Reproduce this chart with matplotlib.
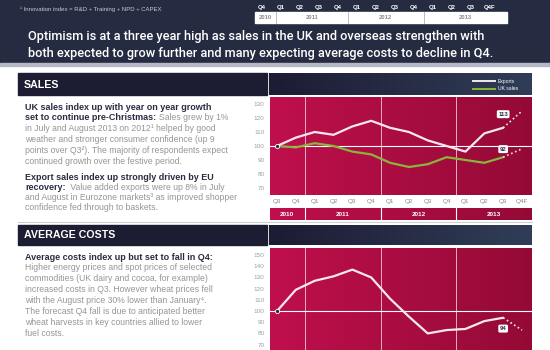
import matplotlib
matplotlib.use('Agg')
import matplotlib.pyplot as plt
import numpy as np
from matplotlib.patches import Rectangle

plt.rcParams['font.family'] = ['Liberation Sans', 'DejaVu Sans']

# --- data ---
quarters = ['Q3', 'Q4', 'Q1', 'Q2', 'Q3', 'Q4', 'Q1', 'Q2', 'Q3', 'Q4', 'Q1', 'Q2', 'Q3', 'Q4F']
years = ['2010', '2011', '2012', '2013']
year_start = [0, 2, 6, 10]
exports = [100, 106, 110, 108, 114, 118, 113, 110, 104, 100, 96, 109, 113, 125]
uk_sales = [100, 99, 102, 100, 96, 94, 88, 85, 87, 92, 90, 88, 92, 98]
avg_costs = [100, 119, 127, 131, 137, 130, 111, 95, 80, 83, 84, 91, 94, 83]
sales_ticks = [70, 80, 90, 100, 110, 120, 130]
cost_ticks = [70, 80, 90, 100, 110, 120, 130, 140, 150]
top_quarters = ['Q4', 'Q1', 'Q2', 'Q3', 'Q4', 'Q1', 'Q2', 'Q3', 'Q4', 'Q1', 'Q2', 'Q3', 'Q4F']
top_year_start = [0, 1, 5, 9]

headline = ["Optimism is at a three year high as sales in the UK and overseas strengthen with",
            "both expected to grow further and many expecting average costs to decline in Q4."]
sales_text = [
    [("UK sales index up with year on year growth", True)],
    [("set to continue pre-Christmas:", True), ("Sales grew by 1%", False)],
    [("in July and August 2013 on 2012\u00b9 helped by good", False)],
    [("weather and stronger consumer confidence (up 9", False)],
    [("points over Q3\u00b2). The majority of respondents expect", False)],
    [("continued growth over the festive period.", False)],
]
export_text = [
    [("Export sales index up strongly driven by EU", True)],
    [("recovery:", True), (" Value added exports were up 8% in July", False)],
    [("and August in Eurozone markets\u00b3 as improved shopper", False)],
    [("confidence fed through to baskets.", False)],
]
cost_text = [
    [("Average costs index up but set to fall in Q4:", True)],
    [("Higher energy prices and spot prices of selected", False)],
    [("commodities (UK dairy and cocoa, for example)", False)],
    [("increased costs in Q3. However wheat prices fell", False)],
    [("with the August price 30% lower than January\u2074.", False)],
    [("The forecast Q4 fall is due to anticipated better", False)],
    [("wheat harvests in key countries allied to lower", False)],
    [("fuel costs.", False)],
]

NAVY = '#252b40'
BAR_DARK = (0.11, 0.11, 0.20)
BAR_LIGHT = (0.19, 0.24, 0.34)
CRIM_L = (0.75, 0.06, 0.30)
CRIM_R = (0.58, 0.04, 0.21)
GREEN = '#8cb43a'
LINE_W = '#f7e8ef'
GREY = '#959595'
DARK = '#2a2d42'
W, H = 550, 350


def gradient(ax, x0, x1, y0, y1, c0, c1, z=1):
    t = np.linspace(0, 1, 64)[None, :, None]
    arr = np.array(c0)[None, None, :] * (1 - t) + np.array(c1)[None, None, :] * t
    ax.imshow(arr, extent=(x0, x1, y1, y0), aspect='auto', zorder=z, interpolation='bicubic')


def rich_line(ax, x, y, parts, size):
    t = None
    for s, bold in parts:
        kw = dict(fontsize=size + 0.3 if bold else size, color=DARK if bold else GREY,
                  fontweight='bold' if bold else 'normal')
        if t is None:
            t = ax.text(x, y, s, va='baseline', **kw)
        else:
            t = ax.annotate(s, xy=(1, 0), xycoords=t, xytext=(2, 0),
                            textcoords='offset points', va='bottom', **kw)


fig = plt.figure(figsize=(5.5, 3.5), dpi=100)
fig.patch.set_facecolor('white')
ax0 = fig.add_axes([0, 0, 1, 1])
ax0.axis('off')

# top band
ax0.add_patch(Rectangle((0, 0), W, 63, color=NAVY, zorder=0))
ax0.add_patch(Rectangle((0, 63), W, 3, color='#b4b8c4', zorder=0))
ax0.text(20, 9, "\u00b9 Innovation index = R&D + Training + NPD + CAPEX", fontsize=4.3,
         color='#c8cad4', va='center')

# quarter/year key at top right
qx = [262 + 19 * i for i in range(len(top_quarters))]
for x, q in zip(qx, top_quarters):
    ax0.text(x, 7, q, fontsize=4.3, color='white', fontweight='bold', ha='center', va='center')
ax0.add_patch(Rectangle((255, 12), 252, 11, color='white', zorder=1))
edges = [255] + [(qx[s - 1] + qx[s]) / 2 for s in top_year_start[1:]] + [507]
edges[1] = 276
for i, y in enumerate(years):
    if 0 < i:
        ax0.plot([edges[i], edges[i]], [12, 23], color='#b0b0b8', lw=0.6, zorder=2)
    ax0.text((edges[i] + edges[i + 1]) / 2, 17.5, y, fontsize=4.2, color='#8a8a90',
             fontweight='bold', ha='center', va='center', zorder=3)

for i, line in enumerate(headline):
    ax0.text(28, 40 + 16.5 * i, line, fontsize=9.2, color='white', va='baseline',
             fontweight='medium', family=['Roboto', 'DejaVu Sans'])

# section header bars
for y0, y1, title in [(73, 95, 'SALES'), (225, 245, 'AVERAGE COSTS')]:
    ax0.add_patch(Rectangle((18, y0), 249, y1 - y0, color=BAR_DARK, zorder=1))
    gradient(ax0, 269, 532, y0, y1, BAR_DARK, BAR_LIGHT)
    ax0.text(24, (y0 + y1) / 2 + 0.5, title, fontsize=7.7, color='white', fontweight='bold',
             va='center', zorder=3)

# legend in sales header
ax0.plot([473, 495], [81, 81], color=LINE_W, lw=1.4, zorder=3)
ax0.plot([473, 495], [89, 89], color=GREEN, lw=1.4, zorder=3)
ax0.text(498, 81, 'Exports', fontsize=3.6, color='white', va='center', zorder=3)
ax0.text(498, 89, 'UK sales', fontsize=3.6, color='white', va='center', zorder=3)

ax0.plot([18, 532], [222, 222], color='#cfd0d6', lw=0.8, zorder=1)

# left column text
for i, parts in enumerate(sales_text):
    rich_line(ax0, 25, 109.5 + 10.8 * i, parts, 6.2)
for i, parts in enumerate(export_text):
    rich_line(ax0, 25, 180.5 + 10.0 * i, parts, 6.2)
for i, parts in enumerate(cost_text):
    rich_line(ax0, 25, 259.5 + 10.9 * i, parts, 6.2)

ax0.set_xlim(0, W)
ax0.set_ylim(H, 0)

xs = np.arange(len(quarters))
XLIM = (-0.371, 13.53)


def chart(rect, ylim, ticks):
    ax = fig.add_axes(rect)
    gradient(ax, XLIM[0], XLIM[1], ylim[1], ylim[0], CRIM_L, CRIM_R, z=0)
    ax.set_xlim(*XLIM)
    ax.set_ylim(*ylim)
    for s in ax.spines.values():
        s.set_visible(False)
    ax.set_yticks(ticks)
    ax.set_yticklabels([str(t) for t in ticks], fontsize=4.6, color='#a0a0a0')
    ax.tick_params(axis='y', length=0, pad=4)
    ax.axhline(100, color='white', lw=0.8, zorder=2)
    for s in year_start[1:]:
        ax.axvline(s - 0.5, color='#f4c8d6', lw=0.6, zorder=1)
    return ax


def fig_rect(x0, y0, x1, y1):
    return [x0 / W, 1 - y1 / H, (x1 - x0) / W, (y1 - y0) / H]


# sales chart
ax_s = chart(fig_rect(270, 97, 532, 195), (65, 135), sales_ticks)
ax_s.plot(xs[:-1], uk_sales[:-1], color=GREEN, lw=1.6, zorder=3, solid_capstyle='round')
ax_s.plot(xs[-2:], uk_sales[-2:], color='#f4d6e0', lw=1.2, ls=(0, (1, 1.6)), zorder=3)
ax_s.plot(xs[:-1], exports[:-1], color=LINE_W, lw=1.6, zorder=4, solid_capstyle='round')
ax_s.plot(xs[-2:], exports[-2:], color=LINE_W, lw=1.2, ls=(0, (1, 1.6)), zorder=4)
ax_s.plot(0, 100, 'o', ms=3, mfc=DARK, mec='white', mew=0.6, zorder=5)
ax_s.set_xticks(xs)
ax_s.set_xticklabels(quarters, fontsize=4.6, color='#8a8a8a')
ax_s.tick_params(axis='x', length=0, pad=3)
for val, dy in [(exports[12], 8), (uk_sales[12], 4)]:
    ax_s.annotate(str(val), xy=(12, val), xytext=(0, dy), textcoords='offset points',
                  ha='center', va='bottom', fontsize=4.3, fontweight='bold', color=DARK,
                  bbox=dict(boxstyle='round,pad=0.25', fc='white', ec='none'), zorder=6)

# year band under sales chart
ax_y = fig.add_axes(fig_rect(270, 208, 532, 220))
gradient(ax_y, XLIM[0], XLIM[1], 1, 0, CRIM_L, CRIM_R, z=0)
ax_y.set_xlim(*XLIM)
ax_y.set_ylim(0, 1)
ax_y.axis('off')
bounds = year_start + [len(quarters)]
for i, y in enumerate(years):
    if i > 0:
        ax_y.axvline(bounds[i] - 0.5, color='white', lw=0.8)
    ax_y.text((bounds[i] + bounds[i + 1] - 1) / 2, 0.5, y, fontsize=4.6, color='white',
              fontweight='bold', ha='center', va='center')

# average costs chart
ax_c = chart(fig_rect(270, 248, 532, 350), (65.2, 156.3), cost_ticks)
ax_c.plot(xs[:-1], avg_costs[:-1], color=LINE_W, lw=1.6, zorder=4, solid_capstyle='round')
ax_c.plot(xs[-2:], avg_costs[-2:], color=LINE_W, lw=1.2, ls=(0, (1, 1.6)), zorder=4)
ax_c.plot(0, 100, 'o', ms=3, mfc=DARK, mec='white', mew=0.6, zorder=5)
ax_c.set_xticks([])
ax_c.annotate(str(avg_costs[12]), xy=(12, avg_costs[12]), xytext=(0, -6),
              textcoords='offset points', ha='center', va='top', fontsize=4.3,
              fontweight='bold', color=DARK,
              bbox=dict(boxstyle='round,pad=0.25', fc='white', ec='none'), zorder=6)

fig.savefig('out.png', dpi=100)
